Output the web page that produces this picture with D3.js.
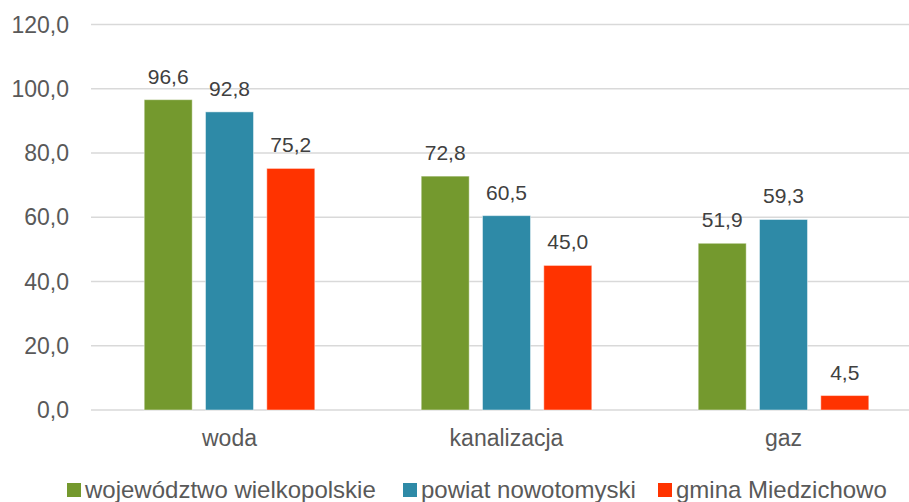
<!DOCTYPE html>
<html>
<head>
<meta charset="utf-8">
<script src="https://cdn.jsdelivr.net/npm/d3@7"></script>
<style>
  body { margin: 0; background: #fff; }
  text { font-family: "Liberation Sans", Arial, sans-serif; }
</style>
</head>
<body>
<div id="bar"></div>
<script>
// data
const categories = ["woda", "kanalizacja", "gaz"];
const seriesNames = ["województwo wielkopolskie", "powiat nowotomyski", "gmina Miedzichowo"];
const wojewodztwo = [96.6, 72.8, 51.9];
const powiat = [92.8, 60.5, 59.3];
const gmina = [75.2, 45.0, 4.5];
const yTicks = [0, 20, 40, 60, 80, 100, 120];

const colors = ["#74992e", "#2e8aa7", "#ff3300"];
const W = 909, H = 502;

const fmt = (v) => d3.format(".1f")(v).replace(".", ",");

// table built from the arrays
const data = categories.map((c, i) => ({
  cat: c,
  values: [wojewodztwo[i], powiat[i], gmina[i]]
}));

const svg = d3.select("#bar")
  .append("svg")
  .attr("width", W)
  .attr("height", H);

// plot area runs a bit past the right edge (cropped in the original)
const x = d3.scaleBand().domain(categories).range([91, 922]);
const y = d3.scaleLinear().domain([0, 120]).range([410, 24.5]);

const xSub = d3.scaleBand()
  .domain(d3.range(seriesNames.length))
  .range([0, x.bandwidth()])
  .paddingInner(0.217)
  .paddingOuter(0.868);

// gridlines
svg.append("g")
  .selectAll("line")
  .data(yTicks)
  .join("line")
  .attr("x1", 91)
  .attr("x2", 922)
  .attr("y1", (d) => y(d))
  .attr("y2", (d) => y(d))
  .attr("stroke", "#d9d9d9")
  .attr("stroke-width", 1.5);

// y tick labels
svg.append("g")
  .selectAll("text")
  .data(yTicks)
  .join("text")
  .attr("x", 69)
  .attr("y", (d) => y(d) + 8)
  .attr("text-anchor", "end")
  .attr("font-size", 23)
  .attr("fill", "#595959")
  .text((d) => fmt(d));

// bars
const groups = svg.append("g")
  .selectAll("g")
  .data(data)
  .join("g")
  .attr("transform", (d) => `translate(${x(d.cat)},0)`);

groups.selectAll("rect")
  .data((d) => d.values.map((v, k) => ({ k: k, v: v })))
  .join("rect")
  .attr("x", (d) => xSub(d.k))
  .attr("y", (d) => y(d.v))
  .attr("width", xSub.bandwidth())
  .attr("height", (d) => y(0) - y(d.v))
  .attr("fill", (d) => colors[d.k])
  .attr("stroke", "#ffffff")
  .attr("stroke-opacity", 0.45)
  .attr("stroke-width", 1);

// value labels
groups.selectAll("text")
  .data((d) => d.values.map((v, k) => ({ k: k, v: v })))
  .join("text")
  .attr("x", (d) => xSub(d.k) + xSub.bandwidth() / 2)
  .attr("y", (d) => y(d.v) - 16)
  .attr("text-anchor", "middle")
  .attr("font-size", 21)
  .attr("fill", "#404040")
  .text((d) => fmt(d.v));

// category labels
svg.append("g")
  .selectAll("text")
  .data(categories)
  .join("text")
  .attr("x", (d) => x(d) + x.bandwidth() / 2)
  .attr("y", 446)
  .attr("text-anchor", "middle")
  .attr("font-size", 23)
  .attr("fill", "#595959")
  .text((d) => d);

// legend
const legendX = [67, 403, 658];
const legend = svg.append("g")
  .selectAll("g")
  .data(seriesNames)
  .join("g")
  .attr("transform", (d, i) => `translate(${legendX[i]},483)`);

legend.append("rect")
  .attr("width", 14)
  .attr("height", 14)
  .attr("fill", (d, i) => colors[i]);

legend.append("text")
  .attr("x", 18)
  .attr("y", 15)
  .attr("font-size", 24)
  .attr("fill", "#595959")
  .text((d) => d);
</script>
</body>
</html>
